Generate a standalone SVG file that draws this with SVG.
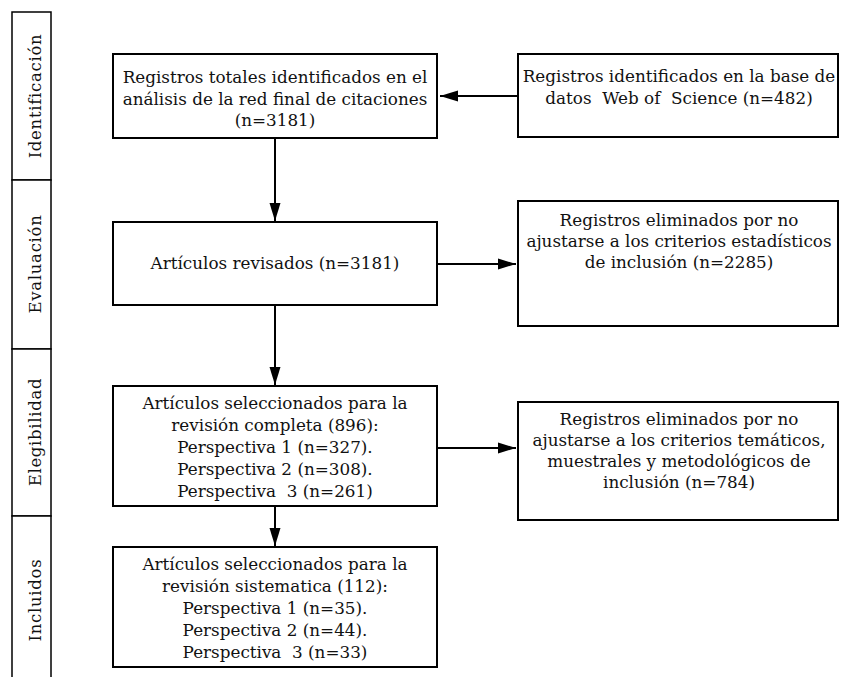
<svg xmlns="http://www.w3.org/2000/svg" width="842" height="677" viewBox="0 0 842 677">
<defs>
<style>
.box{fill:#fff;stroke:#000;stroke-width:2}
.side{fill:#fff;stroke:#000;stroke-width:1.5}
.t{font-family:"DejaVu Serif","Liberation Serif",serif;font-size:16.8px;fill:#111;text-anchor:middle;white-space:pre}
.lab{font-family:"DejaVu Serif","Liberation Serif",serif;font-size:16.5px;letter-spacing:0.7px;fill:#111;text-anchor:middle}
.c{stroke:#000;stroke-width:2;fill:none}
</style>
<marker id="ah" viewBox="0 0 18 12" refX="18" refY="6" markerWidth="18" markerHeight="12" markerUnits="userSpaceOnUse" orient="auto">
<path d="M0,0.5 L18,6 L0,11.5 z" fill="#000"/>
</marker>
</defs>
<rect width="842" height="677" fill="#fff"/>
<g id="sidebar">
<g id="s-ident"><rect class="side" x="12" y="12" width="39" height="168"/><text class="lab" transform="translate(41,96) rotate(-90)">Identificación</text></g>
<g id="s-eval"><rect class="side" x="12" y="180" width="39" height="169"/><text class="lab" transform="translate(41,264) rotate(-90)">Evaluación</text></g>
<g id="s-eleg"><rect class="side" x="12" y="349" width="39" height="167"/><text class="lab" transform="translate(41,432) rotate(-90)">Elegibilidad</text></g>
<g id="s-incl"><rect class="side" x="12" y="516" width="39" height="170"/><text class="lab" transform="translate(41,600) rotate(-90)">Incluidos</text></g>
</g>
<g id="connectors">
<line class="c" x1="518" y1="96" x2="440" y2="96" marker-end="url(#ah)"/>
<line class="c" x1="275" y1="138" x2="275" y2="221" marker-end="url(#ah)"/>
<line class="c" x1="437" y1="264" x2="516" y2="264" marker-end="url(#ah)"/>
<line class="c" x1="275" y1="305" x2="275" y2="385" marker-end="url(#ah)"/>
<line class="c" x1="437" y1="448" x2="516" y2="448" marker-end="url(#ah)"/>
<line class="c" x1="275" y1="506" x2="275" y2="546" marker-end="url(#ah)"/>
</g>
<g id="n1"><rect class="box" x="113" y="54" width="324" height="84"/>
<text class="t" x="275" y="83">Registros totales identificados en el</text>
<text class="t" x="275" y="104.5">análisis de la red final de citaciones</text>
<text class="t" x="275" y="126">(n=3181)</text></g>
<g id="n1r"><rect class="box" x="518" y="54" width="320" height="83"/>
<text class="t" x="679" y="82">Registros identificados en la base de</text>
<text class="t" x="679" y="104">datos  Web of  Science (n=482)</text></g>
<g id="n2"><rect class="box" x="113" y="222" width="324" height="83"/>
<text class="t" x="275" y="269">Artículos revisados (n=3181)</text></g>
<g id="n2r"><rect class="box" x="518" y="201" width="320" height="125"/>
<text class="t" x="679" y="226">Registros eliminados por no</text>
<text class="t" x="679" y="247">ajustarse a los criterios estadísticos</text>
<text class="t" x="679" y="268">de inclusión (n=2285)</text></g>
<g id="n3"><rect class="box" x="113" y="386" width="324" height="120"/>
<text class="t" x="275" y="409">Artículos seleccionados para la</text>
<text class="t" x="275" y="431">revisión completa (896):</text>
<text class="t" x="275" y="453">Perspectiva 1 (n=327).</text>
<text class="t" x="275" y="475">Perspectiva 2 (n=308).</text>
<text class="t" x="275" y="497">Perspectiva  3 (n=261)</text></g>
<g id="n3r"><rect class="box" x="518" y="402" width="320" height="118"/>
<text class="t" x="679" y="425">Registros eliminados por no</text>
<text class="t" x="679" y="446">ajustarse a los criterios temáticos,</text>
<text class="t" x="679" y="467">muestrales y metodológicos de</text>
<text class="t" x="679" y="488">inclusión (n=784)</text></g>
<g id="n4"><rect class="box" x="113" y="547" width="324" height="120"/>
<text class="t" x="275" y="570">Artículos seleccionados para la</text>
<text class="t" x="275" y="592">revisión sistematica (112):</text>
<text class="t" x="275" y="614">Perspectiva 1 (n=35).</text>
<text class="t" x="275" y="636">Perspectiva 2 (n=44).</text>
<text class="t" x="275" y="658">Perspectiva  3 (n=33)</text></g>
</svg>
